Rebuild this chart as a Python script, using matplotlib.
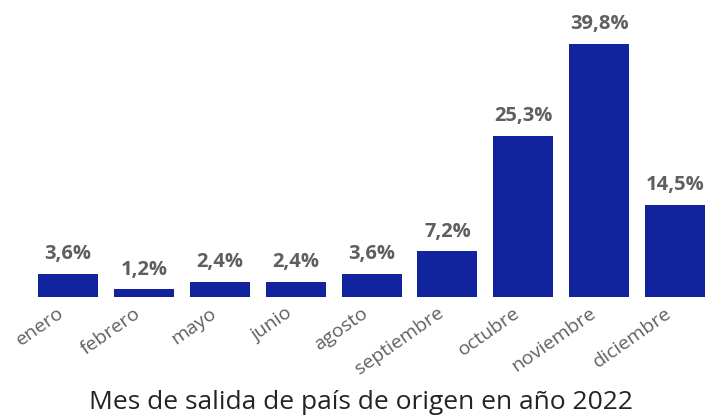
import matplotlib
matplotlib.use("Agg")
import matplotlib.pyplot as plt

categories = ["enero", "febrero", "mayo", "junio", "agosto", "septiembre", "octubre", "noviembre", "diciembre"]
values = [3.6, 1.2, 2.4, 2.4, 3.6, 7.2, 25.3, 39.8, 14.5]
title = "Mes de salida de país de origen en año 2022"

plt.rcParams['font.family'] = ['Open Sans', 'DejaVu Sans']
fig = plt.figure(figsize=(7.22, 4.19), dpi=100)
ax = fig.add_axes([0.0416, 0.2912, 0.946, 0.6826])
x = list(range(len(categories)))
bars = ax.bar(x, values, width=0.79, color="#12239E")
for xi, v in zip(x, values):
    ax.annotate(f"{v:.1f}%".replace(".", ","), (xi, v), xytext=(0, 7), textcoords="offset points",
                ha="center", va="bottom", fontsize=14.5, fontweight="bold", color="#5f5f5f")
ax.set_xlim(-0.5, len(categories) - 0.5)
ax.set_ylim(0, 45)
ax.set_xticks([i - 0.14 for i in x])
ax.set_xticklabels(categories, rotation=35, ha="right", rotation_mode="anchor", fontsize=14, color="#606060")
ax.tick_params(axis="x", length=0, pad=5)
ax.set_yticks([])
for s in ax.spines.values():
    s.set_visible(False)
fig.text(0.5, 0.04, title, ha="center", va="center", fontsize=19, color="#252423")
fig.savefig("out.png", dpi=100)
